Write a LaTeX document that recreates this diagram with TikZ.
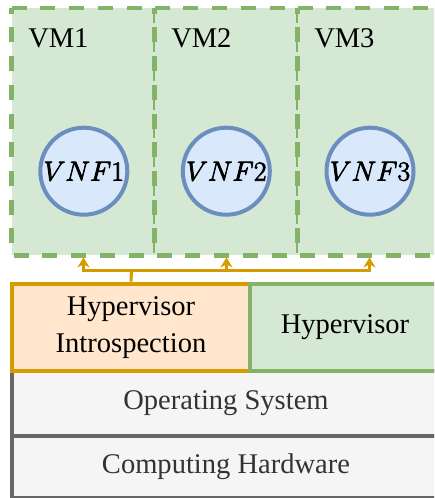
\documentclass[tikz,border=0pt]{standalone}
\usepackage[no-math]{fontspec}
\setmainfont{Liberation Serif}
\usetikzlibrary{arrows.meta}

\definecolor{vmfill}{HTML}{D5E8D4}
\definecolor{vmline}{HTML}{82B366}
\definecolor{vnffill}{HTML}{DAE8FC}
\definecolor{vnfline}{HTML}{6C8EBF}
\definecolor{hifill}{HTML}{FFE6CC}
\definecolor{hiline}{HTML}{D79B00}
\definecolor{osfill}{HTML}{F5F5F5}
\definecolor{osline}{HTML}{666666}
\definecolor{ostext}{HTML}{333333}

% math label set with a slightly heavier stroke (fill + outline)
\newcommand\vnfname[1]{\special{pdf:literal direct 2 Tr 0.55 w}$VNF#1$\special{pdf:literal direct 0 Tr}}

\tikzset{
  bigtext/.style={font=\fontsize{21.4pt}{27.8pt}\selectfont},
  vmbox/.style={fill=vmfill, inner sep=0pt,
    minimum width=107.25pt, minimum height=184.9pt},
  vmedge/.style={draw=vmline, line width=3.4pt,
    dash pattern=on 11.25pt off 10.3pt},
  vmlabel/.style={bigtext, anchor=base west, inner sep=0pt},
  vnf/.style={circle, draw=vnfline, fill=vnffill, line width=3pt,
    minimum size=65.25pt, inner sep=0pt, bigtext},
  hibox/.style={draw=hiline, fill=hifill, line width=3.5pt, inner sep=0pt,
    minimum height=65.25pt, bigtext, align=center},
  hypbox/.style={draw=vmline, fill=vmfill, line width=3.5pt, inner sep=0pt,
    minimum height=65.25pt, bigtext},
  layerbox/.style={draw=osline, fill=osfill, line width=3pt, inner sep=0pt,
    minimum width=321pt, bigtext, text=ostext},
  wire/.style={draw=hiline, line width=2.25pt},
  tip/.style={-{Stealth[length=7.5pt,width=9pt,inset=2.2pt]},
    shorten >=1.6pt}
}

\begin{document}
\begin{tikzpicture}[x=0.75pt, y=-0.75pt]
\useasboundingbox (0,0) rectangle (434,498);
\clip (0,0) rectangle (434,498);

% platform layers
\node[layerbox, minimum height=48.75pt] (os) at (226,403.5) {Operating System};
\node[layerbox, minimum height=46.5pt] (hw) at (226,467) {Computing Hardware};

% hypervisor layer
\node[hibox, minimum width=178.5pt] (hi) at (131,327.5) {Hypervisor\\Introspection};
\node[hypbox, minimum width=142.5pt] (hyp) at (345,327.5) {Hypervisor};

% virtual machines: dashed outline traced clockwise from the top-left corner
\node[vmbox] (vm1) at (83.5,131.75) {};
\draw[vmedge] (vm1.north west) -- (vm1.north east) -- (vm1.south east)
  -- (vm1.south west) -- cycle;
\node[vmbox] (vm2) at (226.5,131.75) {};
\draw[vmedge] (vm2.north west) -- (vm2.north east) -- (vm2.south east)
  -- (vm2.south west) -- cycle;
\node[vmbox] (vm3) at (369.5,131.75) {};
\draw[vmedge] (vm3.north west) -- (vm3.north east) -- (vm3.south east)
  -- (vm3.south west) -- cycle;
\node[vmlabel] (vm1lbl) at (28,48) {VM1};
\node[vmlabel] (vm2lbl) at (171,48) {VM2};
\node[vmlabel] (vm3lbl) at (314,48) {VM3};

% network functions
\node[vnf] (vnf1) at (83.8,171.2) {\vnfname{1}};
\node[vnf] (vnf2) at (226.3,171.2) {\vnfname{2}};
\node[vnf] (vnf3) at (370,171.2) {\vnfname{3}};

% introspection links
\coordinate (bus) at (131.5,270.5);
\draw[wire] (hi.north) -- (bus);
\draw[wire, tip] (bus) -| (vm1.south);
\draw[wire, tip] (bus) -| (vm2.south);
\draw[wire, tip] (bus) -| (vm3.south);
\end{tikzpicture}
\end{document}
